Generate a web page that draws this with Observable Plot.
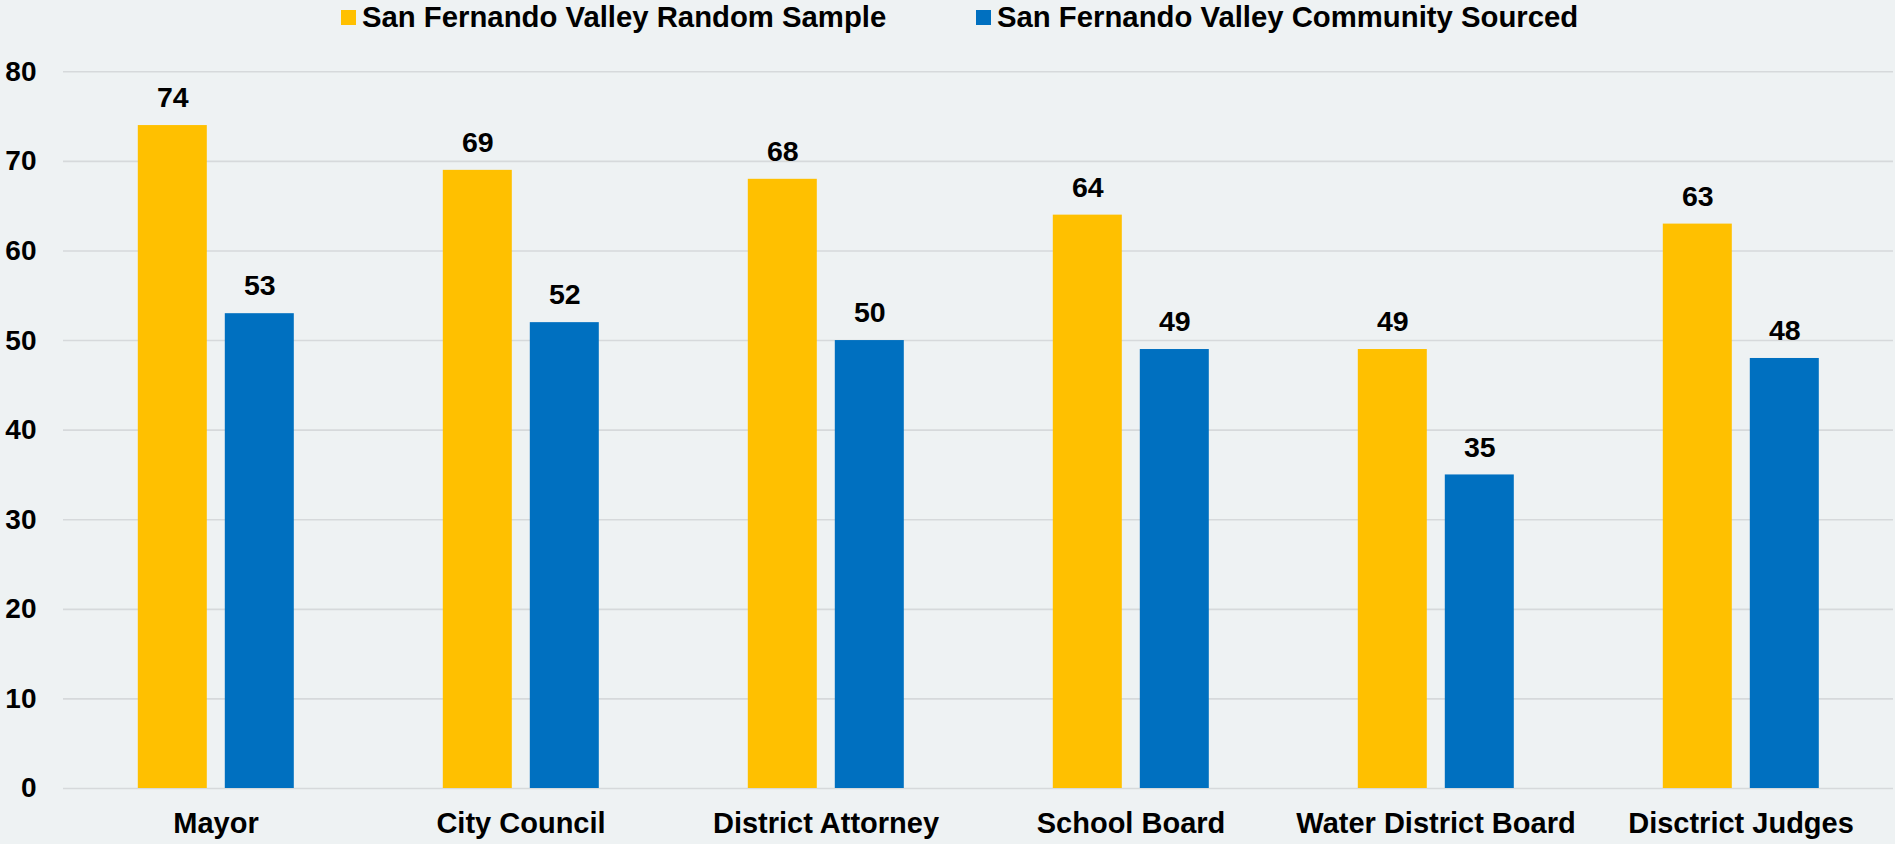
<!DOCTYPE html>
<html>
<head>
<meta charset="utf-8">
<script src="https://cdn.jsdelivr.net/npm/d3@7"></script>
<script src="https://cdn.jsdelivr.net/npm/@observablehq/plot@0.6"></script>
<style>
  html, body { margin: 0; padding: 0; background: #eef2f3; }
  #chart svg { display: block; }
  #legend { position: relative; width: 1895px; height: 36px; font: bold 29.3px 'Liberation Sans', Arial, sans-serif; color: #000; }
  #legend .sw { position: absolute; top: 10px; width: 15px; height: 15px; }
  #legend .lb { position: absolute; top: 1.5px; line-height: 29px; white-space: nowrap; }
</style>
</head>
<body>
<div id="legend"></div>
<div id="chart"></div>
<script>
const categories = ["Mayor", "City Council", "District Attorney", "School Board", "Water District Board", "Disctrict Judges"];
const series = ["San Fernando Valley Random Sample", "San Fernando Valley Community Sourced"];
const randomSample = [74, 69, 68, 64, 49, 63];
const communitySourced = [53, 52, 50, 49, 35, 48];
const yTicks = [0, 10, 20, 30, 40, 50, 60, 70, 80];
const colors = ["#FFC000", "#0070C0"];

const data = categories.flatMap((c, i) => [
  {category: c, series: series[0], value: randomSample[i]},
  {category: c, series: series[1], value: communitySourced[i]}
]);

// legend
const legendPos = [{sw: 341, lb: 362}, {sw: 976, lb: 997}];
const legend = document.getElementById("legend");
series.forEach((s, i) => {
  const sw = document.createElement("span");
  sw.className = "sw";
  sw.style.left = legendPos[i].sw + "px";
  sw.style.background = colors[i];
  legend.appendChild(sw);
  const lb = document.createElement("span");
  lb.className = "lb";
  lb.style.left = legendPos[i].lb + "px";
  lb.textContent = s;
  legend.appendChild(lb);
});

const chart = Plot.plot({
  width: 1895,
  height: 808,
  marginTop: 35.3,
  marginBottom: 56,
  marginLeft: 62.2,
  marginRight: 1.8,
  style: {
    background: "transparent",
    fontFamily: "'Liberation Sans', Arial, sans-serif",
    fontSize: "28px",
    fontWeight: "bold",
    color: "#000"
  },
  fx: {domain: categories, padding: 0, label: null},
  x: {domain: series, paddingInner: 0.212, paddingOuter: 0.856, axis: null},
  y: {domain: [0, 80], label: null},
  color: {domain: series, range: colors},
  marks: [
    Plot.gridY(yTicks, {stroke: "#d6d9db", strokeOpacity: 1, strokeWidth: 1.6}),
    Plot.axisY(yTicks, {tickSize: 0, tickPadding: 27, label: null, fontSize: 28, fontWeight: "bold", fill: "#000"}),
    Plot.axisFx({anchor: "bottom", tickSize: 0, tickPadding: 23.5, label: null, fontSize: 29, fontWeight: "bold", fill: "#000"}),
    Plot.barY(data, {fx: "category", x: "series", y: "value", fill: "series"}),
    Plot.text(data, {fx: "category", x: "series", y: "value", text: d => String(d.value), dy: -27.5, fontSize: 28.5, fontWeight: "bold", fill: "#000"})
  ]
});
document.getElementById("chart").appendChild(chart);
</script>
</body>
</html>
